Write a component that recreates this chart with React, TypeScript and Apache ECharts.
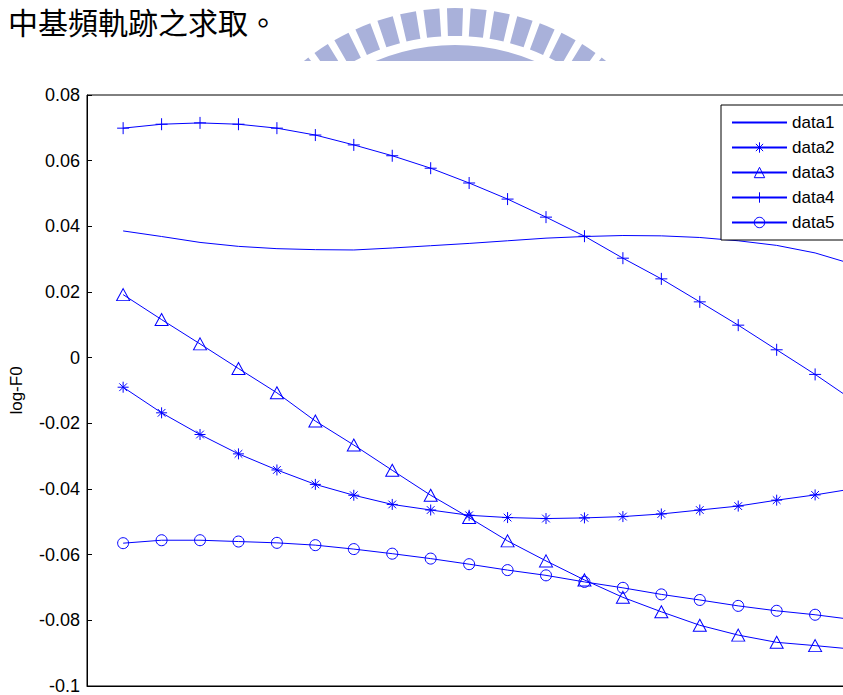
import React, { useEffect, useRef } from "react";
import * as echarts from "echarts";

// Frame index of each sample (the last sample sits just past the right edge)
const frameIndex = [1, 2, 3, 4, 5, 6, 7, 8, 9, 10, 11, 12, 13, 14, 15, 16, 17, 18, 19, 20];

const data1 = [0.0386, 0.0369, 0.0351, 0.0339, 0.0332, 0.0329, 0.0328, 0.0334, 0.0341, 0.0348, 0.0356, 0.0364, 0.0369, 0.0372, 0.0371, 0.0366, 0.0356, 0.0342, 0.0319, 0.0284];
const data2 = [-0.009, -0.0168, -0.0234, -0.0293, -0.0342, -0.0386, -0.0419, -0.0447, -0.0464, -0.048, -0.0487, -0.049, -0.0488, -0.0484, -0.0476, -0.0464, -0.0452, -0.0434, -0.0418, -0.0399];
const data3 = [0.0192, 0.0116, 0.0042, -0.0033, -0.0107, -0.0193, -0.0266, -0.0343, -0.0419, -0.0487, -0.0558, -0.0619, -0.0677, -0.073, -0.0774, -0.0815, -0.0845, -0.0867, -0.0877, -0.0888];
const data4 = [0.0699, 0.0711, 0.0715, 0.0711, 0.0699, 0.0678, 0.0648, 0.0615, 0.0577, 0.0532, 0.0483, 0.0428, 0.037, 0.0303, 0.024, 0.017, 0.0099, 0.0024, -0.0051, -0.0131];
const data5 = [-0.0565, -0.0556, -0.0556, -0.056, -0.0564, -0.0571, -0.0583, -0.0597, -0.0612, -0.0629, -0.0647, -0.0663, -0.0683, -0.0701, -0.0721, -0.0738, -0.0756, -0.0771, -0.0783, -0.0798];

const seriesNames = ["data1", "data2", "data3", "data4", "data5"];
const yTickValues = [-0.1, -0.08, -0.06, -0.04, -0.02, 0, 0.02, 0.04, 0.06, 0.08];
const yTickLabels = ["-0.1", "-0.08", "-0.06", "-0.04", "-0.02", "0", "0.02", "0.04", "0.06", "0.08"];
const yAxisTitle = "log-F0";
const heading = "中基頻軌跡之求取。";

const BLUE = "#0000ff";
const CLEAR = "rgba(0,0,255,0)";
const LAVENDER = "#a9b1da";
const PLUS = "path://M0,-1L0,1M-1,0L1,0";
const STAR = "path://M0,-1L0,1M-1,0L1,0M-0.7,-0.7L0.7,0.7M-0.7,0.7L0.7,-0.7";

// The figure is wider than the visible page; its right side is clipped.
const FIGURE_WIDTH = 900;

const pairs = (vals: number[]) => vals.map((v, i) => [frameIndex[i], v]);

function tickLabel(v: number): string {
  let best = 0;
  for (let i = 1; i < yTickValues.length; i++) {
    if (Math.abs(yTickValues[i] - v) < Math.abs(yTickValues[best] - v)) best = i;
  }
  return yTickLabels[best];
}

// Watermark emblem: radial bars above a curved band, cut off by the figure below
function emblem() {
  const cx = 455;
  const cy = 250;
  const deg = Math.PI / 180;
  const parts: any[] = [];
  for (let k = -7; k <= 7; k++) {
    const a = -90 + k * 5.6;
    parts.push({
      type: "sector",
      shape: { cx, cy, r0: 214, r: 242, startAngle: (a - 1.9) * deg, endAngle: (a + 1.9) * deg },
      style: { fill: LAVENDER },
      silent: true,
    });
  }
  parts.push({
    type: "sector",
    shape: { cx, cy, r0: 184, r: 205, startAngle: -120 * deg, endAngle: -60 * deg },
    style: { fill: LAVENDER },
    silent: true,
  });
  parts.push({
    type: "rect",
    shape: { x: 240, y: 61, width: 470, height: 33 },
    style: { fill: "#ffffff" },
    silent: true,
  });
  return parts;
}

export default function App() {
  const ref = useRef<HTMLDivElement>(null);

  useEffect(() => {
    if (!ref.current) return;
    const chart = echarts.init(ref.current, undefined, { renderer: "svg" });

    const lineStyle = { color: BLUE, width: 1 };
    const hollow = { color: CLEAR, borderColor: BLUE, borderWidth: 1 };

    chart.setOption({
      animation: false,
      backgroundColor: "#ffffff",
      grid: {
        left: 87,
        top: 95,
        bottom: 8,
        right: FIGURE_WIDTH - 892,
        show: true,
        borderColor: "#000",
        borderWidth: 1,
        backgroundColor: "transparent",
      },
      xAxis: {
        type: "value",
        min: 0.06,
        max: 21,
        axisLine: { show: true, onZero: false, lineStyle: { color: "#000", width: 1 } },
        axisTick: { show: false },
        axisLabel: { show: false },
        splitLine: { show: false },
      },
      yAxis: {
        type: "value",
        min: -0.1,
        max: 0.08,
        interval: 0.02,
        name: yAxisTitle,
        nameLocation: "middle",
        nameGap: 62,
        nameRotate: 90,
        nameTextStyle: { fontFamily: "Liberation Sans", fontSize: 17, color: "#000" },
        axisLine: { show: true, onZero: false, lineStyle: { color: "#000", width: 1 } },
        axisTick: { show: true, inside: true, length: 5, lineStyle: { color: "#000" } },
        axisLabel: {
          margin: 7,
          fontFamily: "Liberation Sans",
          fontSize: 18,
          color: "#000",
          formatter: (v: number) => tickLabel(v),
        },
        splitLine: { show: false },
      },
      legend: {
        data: seriesNames,
        orient: "vertical",
        left: 721,
        top: 105,
        padding: [9, 18, 9, 10],
        itemGap: 8,
        itemWidth: 55,
        itemHeight: 13,
        backgroundColor: "#ffffff",
        borderColor: "#000",
        borderWidth: 1,
        borderRadius: 0,
        itemStyle: { borderWidth: 1 },
        textStyle: { fontFamily: "Liberation Sans", fontSize: 17, color: "#000" },
      },
      series: [
        {
          name: seriesNames[0],
          type: "line",
          data: pairs(data1),
          symbol: "circle",
          showSymbol: false,
          itemStyle: { color: CLEAR, borderColor: CLEAR, borderWidth: 0 },
          lineStyle,
          z: 2,
        },
        {
          name: seriesNames[1],
          type: "line",
          data: pairs(data2),
          symbol: STAR,
          symbolSize: 11,
          itemStyle: hollow,
          lineStyle,
          z: 2,
        },
        {
          name: seriesNames[2],
          type: "line",
          data: pairs(data3),
          symbol: "triangle",
          symbolSize: [13, 12],
          itemStyle: hollow,
          lineStyle,
          z: 2,
        },
        {
          name: seriesNames[3],
          type: "line",
          data: pairs(data4),
          symbol: PLUS,
          symbolSize: 12,
          itemStyle: hollow,
          lineStyle,
          z: 2,
        },
        {
          name: seriesNames[4],
          type: "line",
          data: pairs(data5),
          symbol: "circle",
          symbolSize: 11,
          itemStyle: hollow,
          lineStyle,
          z: 2,
        },
      ],
      graphic: [
        ...emblem(),
        {
          type: "text",
          x: 8,
          y: 6,
          silent: true,
          style: {
            text: heading,
            font: '30px "Noto Sans CJK TC"',
            fill: "#000",
            textVerticalAlign: "top",
          },
        },
      ],
    });

    return () => chart.dispose();
  }, []);

  return (
    <div
      style={{
        position: "absolute",
        left: 0,
        top: 0,
        width: 843,
        height: 695,
        overflow: "hidden",
        background: "#ffffff",
      }}
    >
      <div ref={ref} style={{ width: FIGURE_WIDTH, height: 695 }} />
    </div>
  );
}
